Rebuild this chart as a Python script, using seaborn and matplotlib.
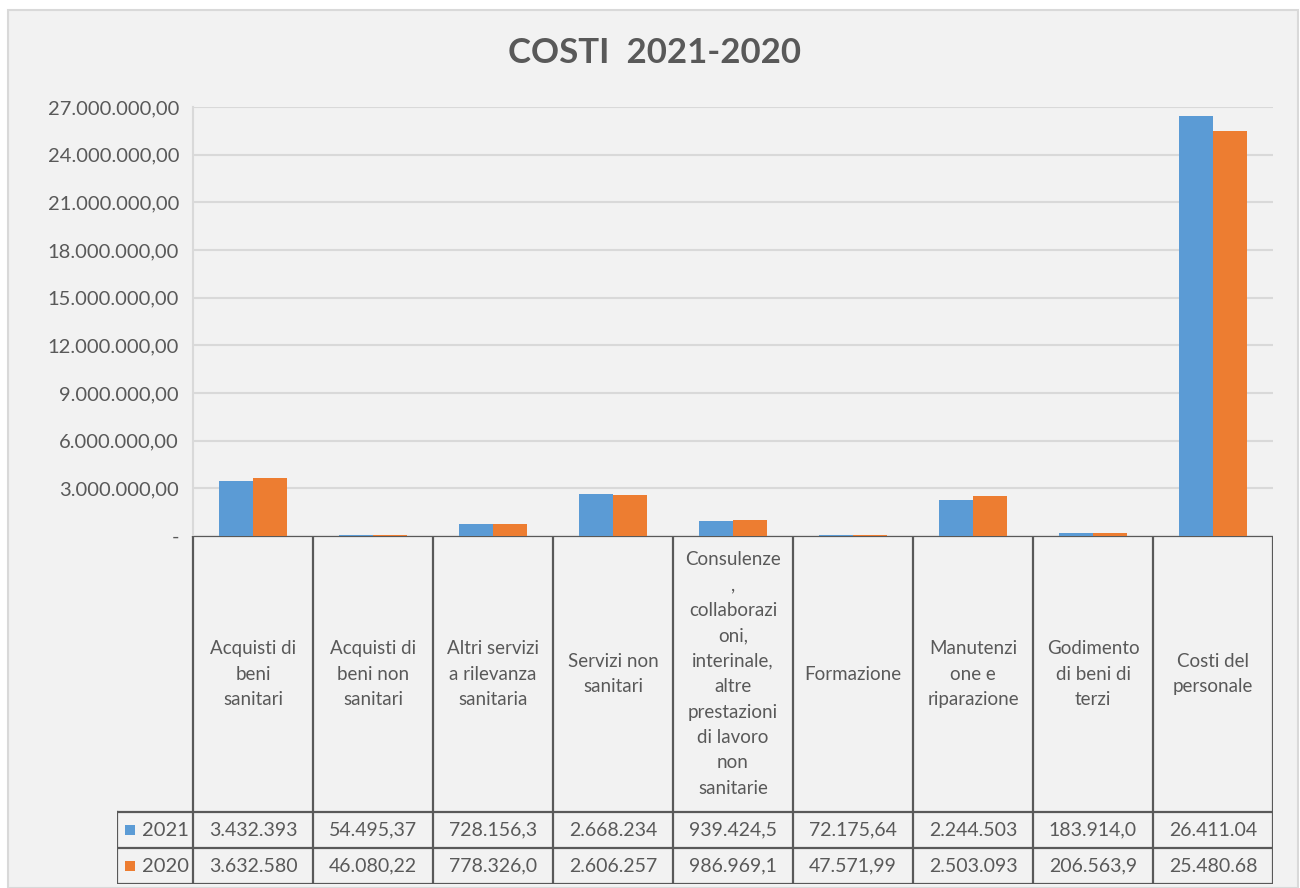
import numpy as np
import pandas as pd
import matplotlib
matplotlib.use('Agg')
import matplotlib.pyplot as plt
from matplotlib.patches import Rectangle
from matplotlib.ticker import FuncFormatter
import seaborn as sns

# Data
categories = [
    'Acquisti di\nbeni\nsanitari',
    'Acquisti di\nbeni non\nsanitari',
    'Altri servizi\na rilevanza\nsanitaria',
    'Servizi non\nsanitari',
    'Consulenze\n,\ncollaborazi\noni,\ninterinale,\naltre\nprestazioni\ndi lavoro\nnon\nsanitarie',
    'Formazione',
    'Manutenzi\none e\nriparazione',
    'Godimento\ndi beni di\nterzi',
    'Costi del\npersonale',
]
years = ['2021', '2020']
costs_2021 = [3432393.00, 54495.37, 728156.30, 2668234.00, 939424.50,
              72175.64, 2244503.00, 183914.00, 26411040.00]
costs_2020 = [3632580.00, 46080.22, 778326.00, 2606257.00, 986969.10,
              47571.99, 2503093.00, 206563.90, 25480680.00]
colors = ['#5b9bd5', '#ed7d31']

y_max = 27000000
y_step = 3000000

TXT = '#595959'
GRID = '#d9d9d9'
LINE = '#595959'


def it_fmt(v):
    # italian number format: 1.234.567,89
    s = f'{v:,.2f}'
    return s.replace(',', 'X').replace('.', ',').replace('X', '.')


def cell_text(v):
    # excel cuts the number when the cell is too narrow
    return it_fmt(v)[:9]


df = pd.DataFrame({
    'cat': categories * 2,
    'year': [years[0]] * len(categories) + [years[1]] * len(categories),
    'value': costs_2021 + costs_2020,
})

sns.set_theme(style='white')
plt.rcParams['font.family'] = ['Lato', 'DejaVu Sans']

W, H = 1300, 888
fig = plt.figure(figsize=(W / 100, H / 100), dpi=100, facecolor='white')

# chart area background
fig.patches.append(Rectangle((8 / W, 0), 1 - 8 / W - 2 / W, 1 - 10 / H,
                             transform=fig.transFigure, facecolor='#f2f2f2',
                             edgecolor='#d9d9d9', lw=1.5, zorder=-10))

fig.text(654 / W, 1 - 53 / H, 'COSTI  2021-2020', ha='center', va='center',
         fontsize=25, fontweight='bold', color=TXT)

# plot area
x0, x1 = 193, 1273
ytop, ybot = 107, 536
ax = fig.add_axes([x0 / W, 1 - ybot / H, (x1 - x0) / W, (ybot - ytop) / H])
ax.set_facecolor('none')
sns.barplot(data=df, x='cat', y='value', hue='year', palette=colors,
            saturation=1, width=0.57, gap=0, linewidth=0,
            ax=ax, legend=False, zorder=3)
ax.set_xlim(-0.5, len(categories) - 0.5)
ax.set_ylim(0, y_max)
ax.set_yticks(np.arange(0, y_max + 1, y_step))
ax.yaxis.set_major_formatter(FuncFormatter(lambda v, p: '-' if v == 0 else it_fmt(v)))
ax.grid(axis='y', color=GRID, lw=1.5, zorder=0)
ax.set_axisbelow(True)
for s in ['top', 'right', 'bottom']:
    ax.spines[s].set_visible(False)
ax.spines['left'].set_color(GRID)
ax.spines['left'].set_linewidth(1.5)
ax.set_xticks([])
ax.set_xlabel('')
ax.set_ylabel('')
ax.tick_params(axis='y', length=0, pad=10, labelsize=14.5, labelcolor=TXT)

# data table
leg_left = 117
row_lines = [536, 812, 848, 884]
tab = fig.add_axes([leg_left / W, 1 - row_lines[-1] / H, (x1 - leg_left) / W,
                    (row_lines[-1] - row_lines[0]) / H])
tab.set_facecolor('none')
n = len(categories)
legw = (x0 - leg_left) / ((x1 - x0) / n)
tab.set_xlim(-0.5 - legw, n - 0.5)
tab.set_ylim(row_lines[-1], row_lines[0])
tab.axis('off')

lk = dict(color=LINE, lw=1.6, solid_capstyle='projecting')
for i in range(n + 1):
    tab.plot([i - 0.5, i - 0.5], [row_lines[0], row_lines[-1]], **lk)
tab.plot([-0.5 - legw] * 2, [row_lines[1], row_lines[-1]], **lk)
tab.plot([-0.5, n - 0.5], [row_lines[0]] * 2, **lk)
for yl in row_lines[1:]:
    tab.plot([-0.5 - legw, n - 0.5], [yl, yl], **lk)

hdr_y = (row_lines[0] + row_lines[1]) / 2
for i, c in enumerate(categories):
    tab.text(i, hdr_y, c, ha='center', va='center', fontsize=13.5,
             color=TXT, linespacing=1.6)

for r, (yr, vals, col) in enumerate(zip(years, [costs_2021, costs_2020], colors)):
    yc = (row_lines[r + 1] + row_lines[r + 2]) / 2
    tab.add_patch(Rectangle((-0.5 - legw + 8 / 120, yc - 5), 10 / 120, 10,
                            facecolor=col, edgecolor='none'))
    tab.text(-0.5 - 4 / 120, yc, yr, ha='right', va='center', fontsize=14.5, color=TXT)
    for i, v in enumerate(vals):
        tab.text(i, yc, cell_text(v), ha='center', va='center', fontsize=14, color=TXT)

fig.savefig('out.png', dpi=100, facecolor='white')
